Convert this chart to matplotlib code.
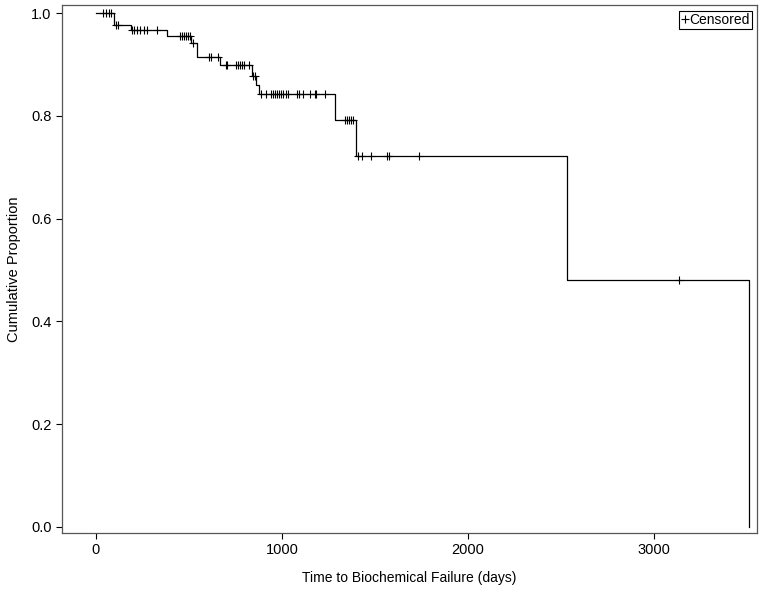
import numpy as np
import matplotlib.pyplot as plt

plt.rcParams['font.family'] = ['Liberation Sans', 'DejaVu Sans']

# step curve: times where the proportion changes and the level after each change
step_times = [0, 97, 188, 382, 511, 543, 667, 839, 860, 876, 1285, 1398, 2532, 3511]
step_levels = [1.0, 0.978, 0.968, 0.956, 0.942, 0.914, 0.899, 0.878, 0.861, 0.842, 0.793, 0.722, 0.480, 0.0]

# censored observations (time, level)
cens_times = [38, 54, 70, 81,
              108, 118,
              194, 204, 220, 237, 258, 274, 328,
              452, 462, 473, 484, 495, 505,
              522,
              608, 618, 656,
              699, 704, 753, 763, 774, 785, 796, 823,
              844, 855,
              887, 914, 941, 952, 962, 973, 984, 995, 1005, 1022, 1032, 1081, 1091, 1113,
              1151, 1177, 1183, 1231,
              1339, 1349, 1360, 1371, 1382,
              1409, 1430, 1478, 1565, 1575, 1737,
              3134]


def level_at(t):
    idx = np.searchsorted(step_times, t, side='right') - 1
    return step_levels[idx]


cens_levels = [level_at(t) for t in cens_times]

fig = plt.figure(figsize=(7.64, 5.91), dpi=100)
ax = fig.add_axes([0.081, 0.098, 0.91, 0.8935])

ax.step(step_times, step_levels, where='post', color='black', linewidth=0.9)
ax.plot(cens_times, cens_levels, linestyle='none', marker='+', color='black',
        markersize=6, markeredgewidth=0.8, label='Censored')

ax.set_xlim(-183, 3554)
ax.set_ylim(-0.012, 1.016)
ax.set_xticks([0, 1000, 2000, 3000])
ax.set_yticks([0.0, 0.2, 0.4, 0.6, 0.8, 1.0])
ax.set_yticklabels(['0.0', '0.2', '0.4', '0.6', '0.8', '1.0'])
ax.tick_params(direction='out', length=4, width=0.8, labelsize=10.5, colors='black')
for s in ax.spines.values():
    s.set_color('#555555')
    s.set_linewidth(0.9)

ax.set_xlabel('Time to Biochemical Failure (days)', fontsize=10, labelpad=10)
ax.set_ylabel('Cumulative Proportion', fontsize=10.5, labelpad=7)

leg = ax.legend(loc='upper right', handlelength=0.6, handletextpad=0.0,
                borderpad=0.15, borderaxespad=0.4, fancybox=False,
                edgecolor='black', fontsize=10, framealpha=1)
leg.get_frame().set_linewidth(0.8)

fig.savefig('out.png', dpi=100)
